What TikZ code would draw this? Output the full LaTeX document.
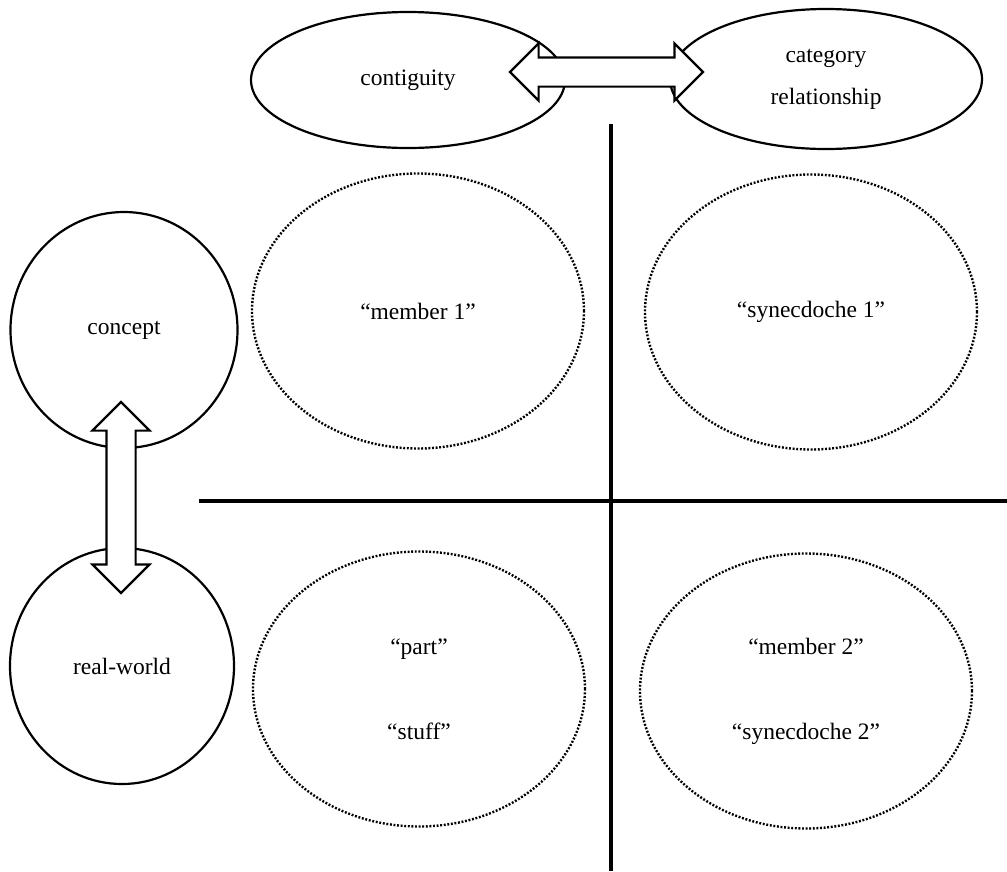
\documentclass[tikz,border=0pt]{standalone}
\usepackage{fontspec}
\setmainfont{Liberation Serif}
\usetikzlibrary{shapes.geometric,shapes.arrows}
\begin{document}
\begin{tikzpicture}[x=1pt,y=-1pt,
  font=\fontsize{23.5}{28}\selectfont,
  solidring/.style={ellipse, draw, line width=2.2pt, inner sep=0pt, align=center},
  dotring/.style={ellipse, draw, line width=2.4pt, dash pattern=on 1.9pt off 1.7pt,
    inner sep=0pt, minimum width=332, minimum height=275, align=center},
  blockarrow/.style={double arrow, draw, fill=white, line width=2.2pt,
    inner xsep=0pt, inner ysep=13.5pt, minimum width=55,
    double arrow head extend=14pt, double arrow tip angle=90},
  divider/.style={line width=3.5pt}]
\useasboundingbox (0,0) rectangle (1007,871);
% quadrant lines
\coordinate (vtop) at (611,124);
\coordinate (vbot) at (611,871);
\coordinate (hleft) at (199,501);
\coordinate (hright) at (1007,501);
\draw[divider] (vtop) -- (vbot);
\draw[divider] (hleft) -- (hright);
% top and left rings
\node[solidring, minimum width=314, minimum height=136] (contig) at (408,80) {contiguity};
\node[solidring, minimum width=312, minimum height=140] (cat) at (826,79) {category\\[14pt]relationship};
\node[solidring, minimum width=227, minimum height=236] (concept) at (124,330) {concept};
\node[solidring, minimum width=224, minimum height=236] (real) at (122,666) {real-world};
% quadrant rings
\node[dotring] (member1) at (418,311) {“member 1”};
\node[dotring] (syn1) at (811,312) {“synecdoche 1”};
\node[dotring] (part) at (419,689) {“part”\\[57pt]“stuff”};
\node[dotring] (member2) at (806,691) {“member 2”\\[57pt]“synecdoche 2”};
% links
\node[blockarrow, minimum height=193] (linkh) at (606.5,72) {};
\node[blockarrow, minimum height=191, rotate=90] (linkv) at (121,497.5) {};
\end{tikzpicture}
\end{document}
